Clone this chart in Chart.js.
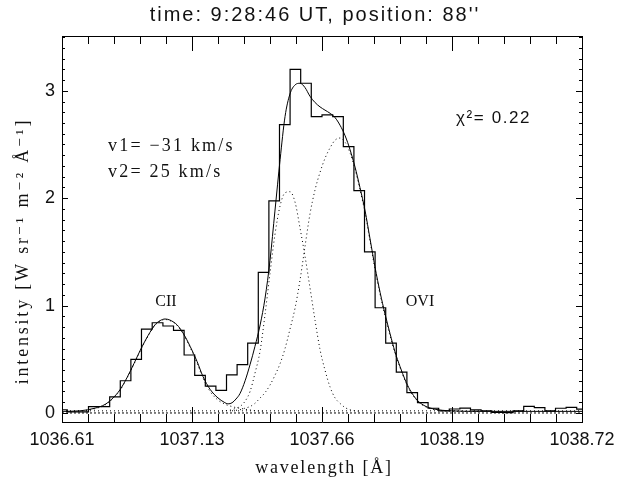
<!DOCTYPE html>
<html>
<head>
<meta charset="utf-8">
<script src="https://cdn.jsdelivr.net/npm/chart.js@4.4.1/dist/chart.umd.min.js"></script>
<style>
  html, body { margin: 0; padding: 0; background: #fff; }
  #wrap { width: 629px; height: 479px; }
</style>
</head>
<body>
<div id="wrap"><canvas id="spectrum" width="629" height="479"></canvas></div>
<script>
// observed profile, one value per detector pixel
const waveObs = [
  1036.610, 1036.653, 1036.696, 1036.739, 1036.782, 1036.825, 1036.868, 1036.911, 1036.954, 1036.998,
  1037.041, 1037.084, 1037.127, 1037.170, 1037.213, 1037.256, 1037.299, 1037.342, 1037.385, 1037.428,
  1037.471, 1037.514, 1037.557, 1037.600, 1037.643, 1037.687, 1037.730, 1037.773, 1037.816, 1037.859,
  1037.902, 1037.945, 1037.988, 1038.031, 1038.074, 1038.117, 1038.160, 1038.203, 1038.246, 1038.289,
  1038.332, 1038.376, 1038.419, 1038.462, 1038.505, 1038.548, 1038.591, 1038.634, 1038.677, 1038.720
];
const intensObs = [
  0.03, 0.01, 0.01, 0.06, 0.06, 0.15, 0.30, 0.50, 0.78, 0.84,
  0.81, 0.77, 0.54, 0.35, 0.25, 0.21, 0.355, 0.45, 0.65, 1.31,
  1.975, 2.685, 3.20, 3.07, 2.76, 2.775, 2.76, 2.48, 2.07, 1.50,
  0.98, 0.65, 0.38, 0.19, 0.096, 0.044, 0.02, 0.037, 0.045, 0.028,
  0.019, 0.006, 0.003, 0.02, 0.062, 0.05, 0.019, 0.044, 0.053, 0.035
];

// fit curves, read along the wavelength axis
const waveFit = [
  1036.610, 1036.683, 1036.744, 1036.785, 1036.817, 1036.845, 1036.874, 1036.902, 1036.931, 1036.959,
  1036.987, 1037.008, 1037.028, 1037.048, 1037.077, 1037.101, 1037.130, 1037.158, 1037.182, 1037.211,
  1037.243, 1037.268, 1037.284, 1037.300, 1037.316, 1037.332, 1037.353, 1037.373, 1037.393, 1037.414,
  1037.434, 1037.454, 1037.474, 1037.495, 1037.515, 1037.535, 1037.556, 1037.576, 1037.596, 1037.616,
  1037.637, 1037.657, 1037.677, 1037.698, 1037.718, 1037.738, 1037.759, 1037.779, 1037.799, 1037.819,
  1037.840, 1037.860, 1037.880, 1037.901, 1037.921, 1037.941, 1037.961, 1037.982, 1038.002, 1038.022,
  1038.051, 1038.083, 1038.124, 1038.185, 1038.306, 1038.720
];
const fitTotal = [
  0.015, 0.02, 0.045, 0.08, 0.14, 0.215, 0.33, 0.46, 0.60, 0.72,
  0.82, 0.86, 0.875, 0.865, 0.82, 0.745, 0.62, 0.48, 0.34, 0.22,
  0.14, 0.10, 0.085, 0.095, 0.13, 0.18, 0.30, 0.45, 0.62, 0.82,
  1.07, 1.42, 1.88, 2.36, 2.76, 2.97, 3.055, 3.07, 3.03, 2.95,
  2.89, 2.85, 2.82, 2.79, 2.75, 2.68, 2.58, 2.45, 2.29, 2.10,
  1.88, 1.62, 1.36, 1.12, 0.92, 0.74, 0.57, 0.43, 0.31, 0.215,
  0.12, 0.065, 0.035, 0.02, 0.015, 0.015
];
const fitCII = [
  0.015, 0.02, 0.04, 0.075, 0.135, 0.21, 0.325, 0.455, 0.595, 0.715,
  0.815, 0.855, 0.87, 0.86, 0.815, 0.74, 0.61, 0.465, 0.325, 0.2,
  0.12, 0.085, 0.07, 0.06, 0.05, 0.044, 0.035, 0.028, 0.022, 0.018,
  0.016, null, null, null, null, null, null, null, null, null,
  null, null, null, null, null, null, null, null, null, null,
  null, null, null, null, null, null, null, null, null, null,
  null, null, null, null, null, null
];
const fitBlue = [
  null, null, null, null, null, null, null, null, null, null,
  null, null, null, null, null, null, null, null, null, null,
  0.015, 0.02, 0.025, 0.03, 0.045, 0.06, 0.11, 0.2, 0.37, 0.58,
  0.92, 1.3, 1.66, 1.93, 2.05, 2.06, 1.96, 1.72, 1.46, 1.17,
  0.86, 0.59, 0.40, 0.24, 0.14, 0.09, 0.05, 0.03, 0.02, 0.016,
  null, null, null, null, null, null, null, null, null, null,
  null, null, null, null, null, null
];
const fitRed = [
  null, null, null, null, null, null, null, null, null, null,
  null, null, null, null, null, null, null, null, null, null,
  null, null, null, 0.02, 0.025, 0.03, 0.045, 0.06, 0.09, 0.14,
  0.19, 0.26, 0.35, 0.46, 0.60, 0.78, 0.98, 1.24, 1.55, 1.85,
  2.08, 2.24, 2.37, 2.47, 2.54, 2.56, 2.52, 2.42, 2.27, 2.08,
  1.86, 1.60, 1.34, 1.10, 0.90, 0.72, 0.56, 0.42, 0.30, 0.205,
  0.115, 0.06, 0.03, 0.018, 0.015, null
];

const waveEnds = [1036.61, 1038.72];
const backgroundLevel = [0.02, 0.02];
const zeroLevel = [0, 0];

const xMajorTicks = [1036.61, 1037.1375, 1037.665, 1038.1925, 1038.72];
const xTickLabels = ['1036.61', '1037.13', '1037.66', '1038.19', '1038.72'];
const xMinorPerMajor = 5;
const yMajorTicks = [0, 1, 2, 3];
const yTickLabels = ['0', '1', '2', '3'];
const yMinorStep = 0.1;

const titleText = "time: 9:28:46 UT, position: 88''";
const xTitle = 'wavelength [Å]';
const yTitle = 'intensity [W sr⁻¹ m⁻² Å⁻¹]';
const velocityNotes = ['v1= −31 km/s', 'v2= 25 km/s'];
const chiNote = 'χ²= 0.22';
const lineNames = ['CII', 'OVI'];

const X_MIN = 1036.61, X_MAX = 1038.72;
const Y_MIN = -0.084, Y_MAX = 3.51;

function pairs(xs, ys) {
  return xs.map((x, i) => ({ x: x, y: ys[i] }));
}

// IDL style ticks: pointing into the plot on all four sides
const tickMarks = {
  id: 'tickMarks',
  afterDatasetsDraw(chart) {
    const { ctx, chartArea: a, scales: { x, y } } = chart;
    ctx.save();
    ctx.strokeStyle = '#000';
    ctx.lineWidth = 1;
    ctx.beginPath();
    for (let m = 0; m < xMajorTicks.length; m++) {
      const step = m < xMajorTicks.length - 1 ? (xMajorTicks[m + 1] - xMajorTicks[m]) / xMinorPerMajor : 0;
      const count = m < xMajorTicks.length - 1 ? xMinorPerMajor : 1;
      for (let k = 0; k < count; k++) {
        const px = Math.round(x.getPixelForValue(xMajorTicks[m] + k * step)) + 0.5;
        const len = k === 0 ? 15 : 8;
        ctx.moveTo(px, a.bottom); ctx.lineTo(px, a.bottom - len);
        ctx.moveTo(px, a.top); ctx.lineTo(px, a.top + len);
      }
    }
    for (let v = 0; v <= Y_MAX + 1e-9; v += yMinorStep) {
      const py = Math.round(y.getPixelForValue(v)) + 0.5;
      const major = Math.abs(v - Math.round(v)) < 1e-6;
      const len = major ? 6 : 3;
      ctx.moveTo(a.left, py); ctx.lineTo(a.left + len, py);
      ctx.moveTo(a.right, py); ctx.lineTo(a.right - len, py);
    }
    ctx.stroke();
    ctx.restore();
  }
};

function putText(ctx, text, x, y, font, align, spacing) {
  ctx.font = font;
  ctx.textAlign = align;
  ctx.letterSpacing = spacing + 'px';
  ctx.fillText(text, x, y);
}

const annotations = {
  id: 'annotations',
  afterDraw(chart) {
    const ctx = chart.ctx;
    ctx.save();
    ctx.fillStyle = '#111';
    ctx.textBaseline = 'alphabetic';
    putText(ctx, titleText, 315, 21, '20px "Liberation Sans"', 'center', 2);
    putText(ctx, xTitle, 324, 473, '18px "Liberation Serif"', 'center', 1.8);
    putText(ctx, velocityNotes[0], 108, 151, '18px "Liberation Serif"', 'left', 2.2);
    putText(ctx, velocityNotes[1], 108, 177, '18px "Liberation Serif"', 'left', 2.2);
    putText(ctx, chiNote, 456, 123, '17px "Liberation Sans"', 'left', 1.6);
    putText(ctx, lineNames[0], 166, 306, '16px "Liberation Serif"', 'center', 0);
    putText(ctx, lineNames[1], 420, 306, '16px "Liberation Serif"', 'center', 0);
    ctx.translate(28, 251);
    ctx.rotate(-Math.PI / 2);
    putText(ctx, yTitle, 0, 0, '18px "Liberation Serif", "DejaVu Serif"', 'center', 2.8);
    ctx.restore();
  }
};

const dotted = [1, 3];
const curve = { pointRadius: 0, borderColor: '#000', borderWidth: 1, fill: false, spanGaps: false, cubicInterpolationMode: 'monotone' };

new Chart(document.getElementById('spectrum'), {
  type: 'line',
  data: {
    datasets: [
      { data: pairs(waveObs, intensObs), stepped: 'middle', pointRadius: 0, borderColor: '#000', borderWidth: 1.2, fill: false },
      Object.assign({ data: pairs(waveFit, fitTotal) }, curve),
      Object.assign({ data: pairs(waveFit, fitCII), borderDash: dotted }, curve),
      Object.assign({ data: pairs(waveFit, fitBlue), borderDash: dotted }, curve),
      Object.assign({ data: pairs(waveFit, fitRed), borderDash: dotted }, curve),
      Object.assign({ data: pairs(waveEnds, backgroundLevel), borderDash: dotted }, curve),
      Object.assign({ data: pairs(waveEnds, zeroLevel), borderDash: [2, 2] }, curve)
    ]
  },
  options: {
    responsive: false,
    animation: false,
    devicePixelRatio: 1,
    layout: { padding: { left: 0, right: 47, top: 0, bottom: 0 } },
    plugins: { legend: { display: false }, tooltip: { enabled: false }, title: { display: false } },
    scales: {
      x: {
        type: 'linear', position: 'bottom', min: X_MIN, max: X_MAX,
        afterBuildTicks: s => { s.ticks = xMajorTicks.map(v => ({ value: v })); },
        afterFit: s => { s.height = 57; },
        grid: { display: false, drawTicks: false },
        border: { display: true, color: '#000', width: 1 },
        ticks: {
          autoSkip: false, maxRotation: 0, padding: 7, color: '#111',
          font: { family: '"Liberation Sans"', size: 18 },
          callback: (v, i) => xTickLabels[i]
        }
      },
      x2: {
        type: 'linear', position: 'top', min: X_MIN, max: X_MAX,
        afterFit: s => { s.height = 36; },
        grid: { display: false, drawTicks: false },
        border: { display: true, color: '#000', width: 1 },
        ticks: { display: false }
      },
      y: {
        type: 'linear', position: 'left', min: Y_MIN, max: Y_MAX,
        afterBuildTicks: s => { s.ticks = yMajorTicks.map(v => ({ value: v })); },
        afterFit: s => { s.width = 62; },
        grid: { display: false, drawTicks: false },
        border: { display: true, color: '#000', width: 1 },
        ticks: {
          padding: 7, color: '#111',
          font: { family: '"Liberation Sans"', size: 18 },
          callback: (v, i) => yTickLabels[i]
        }
      },
      y2: {
        type: 'linear', position: 'right', min: Y_MIN, max: Y_MAX,
        afterFit: s => { s.width = 0; },
        grid: { display: false, drawTicks: false },
        border: { display: true, color: '#000', width: 1 },
        ticks: { display: false }
      }
    }
  },
  plugins: [tickMarks, annotations]
});
</script>
</body>
</html>
